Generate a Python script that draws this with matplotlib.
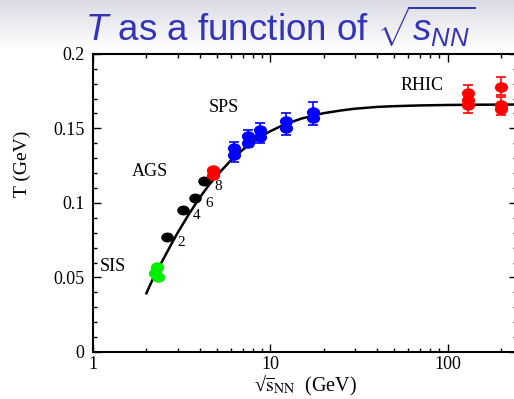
import numpy as np
import matplotlib
matplotlib.use('Agg')
import matplotlib.pyplot as plt
from matplotlib.path import Path
from matplotlib.ticker import FixedLocator, FixedFormatter, MultipleLocator, NullFormatter

# freeze-out curve
curve_s = [2.0, 2.2, 2.5, 2.8, 3.0, 3.5, 4.0, 4.5, 5.0, 6.0, 7.0, 8.0, 9.0, 10,
           12, 15, 20, 25, 30, 40, 50, 70, 100, 150, 245]
curve_T = [0.0394, 0.0503, 0.0626, 0.0735, 0.0799, 0.0931, 0.1036, 0.1119, 0.1185,
           0.1286, 0.1357, 0.1410, 0.1450, 0.1481, 0.1526, 0.1566, 0.1602, 0.1620,
           0.1632, 0.1644, 0.1649, 0.1654, 0.1657, 0.1659, 0.1660]

# SIS (green)
sis_s = [2.24, 2.30, 2.32]
sis_T = [0.053, 0.057, 0.050]

# AGS (black, labelled by beam energy)
ags_s = [2.62, 3.22, 3.77, 4.24]
ags_T = [0.077, 0.095, 0.103, 0.115]
ags_labels = ['2', '4', '6', '8']

# AGS top energy (red)
agsr_s = [4.75, 4.75]
agsr_T = [0.122, 0.119]

# SPS (blue)
sps_s = [6.2, 6.2, 7.5, 7.5, 8.7, 8.7, 12.2, 12.2, 17.3, 17.3]
sps_T = [0.137, 0.132, 0.145, 0.140, 0.149, 0.144, 0.155, 0.150, 0.161, 0.157]
sps_bar_s = [6.2, 7.5, 8.7, 12.2, 17.3]
sps_bar_T = [0.134, 0.143, 0.147, 0.153, 0.160]
sps_bar_err = [0.0067, 0.0057, 0.0067, 0.0074, 0.0074]

# RHIC (red)
rhic_s = [130, 130, 130, 200, 200, 200]
rhic_T = [0.174, 0.169, 0.166, 0.178, 0.166, 0.163]
rhic_bar_s = [130, 200, 200]
rhic_bar_T = [0.170, 0.1785, 0.165]
rhic_bar_err = [0.0094, 0.006, 0.006]

y_ticks = [0, 0.05, 0.1, 0.15, 0.2]
y_ticklabels = ['0', '0.05', '0.1', '0.15', '0.2']
x_ticks = [1, 10, 100]
x_ticklabels = ['1', '10', '100']

serif = 'Liberation Serif'
plt.rcParams['mathtext.fontset'] = 'custom'
plt.rcParams['mathtext.rm'] = 'Liberation Sans'
plt.rcParams['mathtext.it'] = 'Liberation Sans:italic'

fig = plt.figure(figsize=(5.14, 3.99), dpi=100)

# title banner gradient
bg = fig.add_axes([0, 0.875, 1, 0.125], zorder=0)
grad = np.linspace(0, 1, 50).reshape(-1, 1)
top = np.array([0.86, 0.86, 0.90])
col = top + (1 - top) * grad[..., None]
bg.imshow(col, aspect='auto', extent=[0, 1, 0, 1], origin='upper')
bg.axis('off')

fig.text(0.545, 0.935, r'$T$ as a function of $\sqrt{s_{NN}}$', ha='center', va='center',
         fontsize=26.5, color='#3434b8', family='Liberation Sans')

ax = fig.add_axes([0.181, 0.118, 0.824, 0.747], zorder=1)
ax.set_xscale('log')
ax.set_xlim(1, 245)
ax.set_ylim(0, 0.2)

ellipse = Path(Path.unit_circle().vertices * [1.3, 1.0], Path.unit_circle().codes)

ax.plot(curve_s, curve_T, color='black', lw=1.8, zorder=2)

ax.errorbar(sps_bar_s, sps_bar_T, yerr=sps_bar_err, fmt='none', ecolor='blue',
            elinewidth=1.2, capsize=3.5, capthick=1.2, zorder=3)
ax.errorbar(rhic_bar_s, rhic_bar_T, yerr=rhic_bar_err, fmt='none', ecolor='red',
            elinewidth=1.2, capsize=3.5, capthick=1.2, zorder=3)

ax.plot(sis_s, sis_T, ls='none', marker=ellipse, ms=8.5, color='#00ee00', zorder=4)
ax.plot(ags_s, ags_T, ls='none', marker=ellipse, ms=8, color='black', zorder=4)
ax.plot(agsr_s, agsr_T, ls='none', marker=ellipse, ms=8.5, color='red', zorder=4)
ax.plot(sps_s, sps_T, ls='none', marker=ellipse, ms=8.5, color='blue', zorder=4)
ax.plot(rhic_s, rhic_T, ls='none', marker=ellipse, ms=8.5, color='red', zorder=4)

for s, t, lab in zip(ags_s, ags_T, ags_labels):
    ax.annotate(lab, (s, t), xytext=(7, -4), textcoords='offset points',
                ha='left', va='center', fontsize=11, family=serif)

ax.text(1.095, 0.057, 'SIS', fontsize=13, family=serif, va='center')
ax.text(1.66, 0.121, 'AGS', fontsize=13, family=serif, va='center')
ax.text(4.47, 0.164, 'SPS', fontsize=13, family=serif, va='center')
ax.text(54, 0.179, 'RHIC', fontsize=13, family=serif, va='center')

ax.xaxis.set_major_locator(FixedLocator(x_ticks))
ax.xaxis.set_major_formatter(FixedFormatter(x_ticklabels))
ax.xaxis.set_minor_locator(FixedLocator([m * d for d in (1, 10, 100) for m in range(2, 10)]))
ax.xaxis.set_minor_formatter(NullFormatter())
ax.yaxis.set_major_locator(FixedLocator(y_ticks))
ax.yaxis.set_major_formatter(FixedFormatter(y_ticklabels))
ax.yaxis.set_minor_locator(MultipleLocator(0.01))

ax.tick_params(which='both', direction='in', top=True, right=True, width=1.0)
ax.tick_params(which='major', length=6, labelsize=13, pad=6)
ax.tick_params(axis='x', which='major', pad=3)
ax.tick_params(which='minor', length=3)
for lab in ax.get_xticklabels() + ax.get_yticklabels():
    lab.set_family(serif)
for sp in ax.spines.values():
    sp.set_linewidth(1.5)

fig.text(0.043, 0.59, 'T (GeV)', rotation=90, ha='center', va='center',
         fontsize=14, family=serif)
fig.text(0.595, 0.033, '\u221a' + r'$\overline{\mathrm{s}}_{\mathrm{NN}}$  (GeV)',
         ha='center', va='center', fontsize=14.5, family=serif, math_fontfamily='stix')

fig.savefig('out.png', dpi=100)
